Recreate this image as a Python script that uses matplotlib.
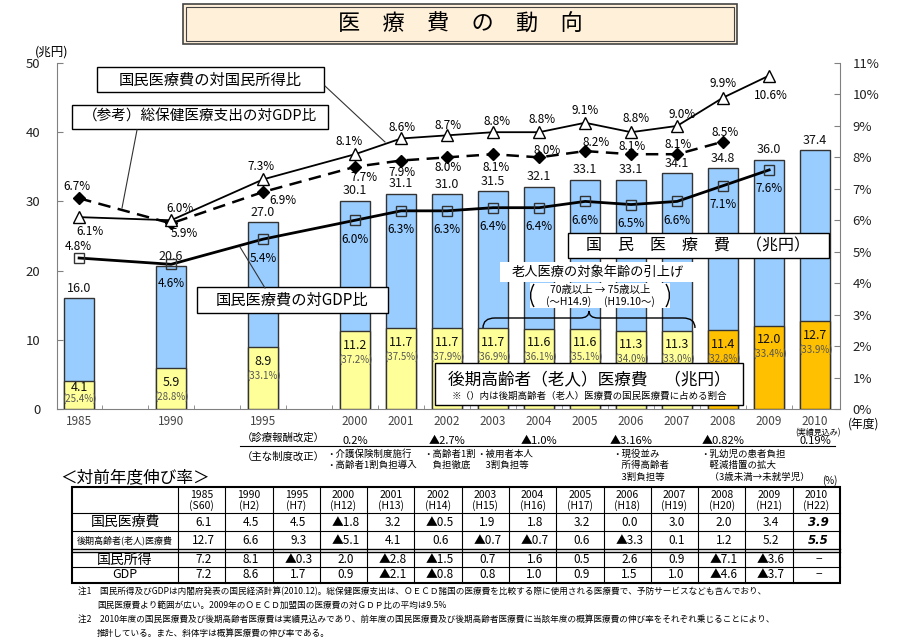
import matplotlib
matplotlib.use('Agg')
import matplotlib.pyplot as plt
import matplotlib.patches as mpatches
from matplotlib.path import Path
from matplotlib.transforms import blended_transform_factory
import numpy as np

plt.rcParams['font.family'] = ['Noto Sans CJK JP', 'DejaVu Sans']

# ---- data ----
years = ['1985', '1990', '1995', '2000', '2001', '2002', '2003', '2004',
         '2005', '2006', '2007', '2008', '2009', '2010']
xpos = np.array([0, 2, 4, 6, 7, 8, 9, 10, 11, 12, 13, 14, 15, 16])

total = [16.0, 20.6, 27.0, 30.1, 31.1, 31.0, 31.5, 32.1, 33.1, 33.1, 34.1, 34.8, 36.0, 37.4]
elderly = [4.1, 5.9, 8.9, 11.2, 11.7, 11.7, 11.7, 11.6, 11.6, 11.3, 11.3, 11.4, 12.0, 12.7]
elderly_share = [25.4, 28.8, 33.1, 37.2, 37.5, 37.9, 36.9, 36.1, 35.1, 34.0, 33.0, 32.8, 33.4, 33.9]

income_ratio = [6.1, 6.0, 7.3, 8.1, 8.6, 8.7, 8.8, 8.8, 9.1, 8.8, 9.0, 9.9, 10.6]  # 1985-2009
oecd_ratio = [6.7, 5.9, 6.9, 7.7, 7.9, 8.0, 8.1, 8.0, 8.2, 8.1, 8.1, 8.5]          # 1985-2008
gdp_ratio = [4.8, 4.6, 5.4, 6.0, 6.3, 6.3, 6.4, 6.4, 6.6, 6.5, 6.6, 7.1, 7.6]      # 1985-2009

fee_idx = [3, 5, 7, 9, 11, 13]
fee_rates = ['0.2%', '▲2.7%', '▲1.0%', '▲3.16%', '▲0.82%', '0.19%']

col_heads = [('1985', '(S60)'), ('1990', '(H2)'), ('1995', '(H7)'), ('2000', '(H12)'),
             ('2001', '(H13)'), ('2002', '(H14)'), ('2003', '(H15)'), ('2004', '(H16)'),
             ('2005', '(H17)'), ('2006', '(H18)'), ('2007', '(H19)'), ('2008', '(H20)'),
             ('2009', '(H21)'), ('2010', '(H22)')]
row_names = ['国民医療費', '後期高齢者(老人)医療費', '国民所得', 'GDP']
growth_med = ['6.1', '4.5', '4.5', '▲1.8', '3.2', '▲0.5', '1.9', '1.8', '3.2', '0.0', '3.0', '2.0', '3.4', '3.9']
growth_eld = ['12.7', '6.6', '9.3', '▲5.1', '4.1', '0.6', '▲0.7', '▲0.7', '0.6', '▲3.3', '0.1', '1.2', '5.2', '5.5']
growth_inc = ['7.2', '8.1', '▲0.3', '2.0', '▲2.8', '▲1.5', '0.7', '1.6', '0.5', '2.6', '0.9', '▲7.1', '▲3.6', '−']
growth_gdp = ['7.2', '8.6', '1.7', '0.9', '▲2.1', '▲0.8', '0.8', '1.0', '0.9', '1.5', '1.0', '▲4.6', '▲3.7', '−']
growth_rows = [growth_med, growth_eld, growth_inc, growth_gdp]

# ---- label offsets (pixels) ----
inc_off = [(11, -14), (9, 12), (-2, 13), (-6, 13), (1, 11), (1, 10), (4, 11), (3, 13),
           (0, 12), (5, 14), (5, 11), (0, 14), (2, -20)]
oecd_off = [(-2, 12), (13, -10), (20, -9), (9, -11), (1, -12), (1, -10), (3, -13),
            (8, 7), (11, 9), (1, 8), (1, 10), (2, 9)]
gdp_off = [(-1, 12)] + [(0, -19)] * 12

W, H = 908, 642
L, R, T, B = 57, 840, 63, 409

fig = plt.figure(figsize=(W / 100, H / 100), dpi=100)
ax = fig.add_axes([L / W, 1 - B / H, (R - L) / W, (B - T) / H])
ax.set_xlim(-0.48, 16.54)
ax.set_ylim(0, 50)

eld_colors = ['#FFFF99'] * 11 + ['#FFC000'] * 3
bw = 0.66
ax.bar(xpos, total, bw, color='#99CCFF', edgecolor='#333333', lw=1.0, zorder=2)
ax.bar(xpos, elderly, bw, color=eld_colors, edgecolor='#333333', lw=1.0, zorder=3)

for x, v in zip(xpos, total):
    ax.annotate(f'{v:.1f}', (x, v), xytext=(0, 10), textcoords='offset pixels',
                ha='center', va='center', fontsize=9, color='#111111', zorder=6)
for i, (x, v, s) in enumerate(zip(xpos, elderly, elderly_share)):
    d1, d2 = (-7, -18) if i == 0 else (-14, -28)
    ax.annotate(f'{v:.1f}', (x, v), xytext=(0, d1), textcoords='offset pixels',
                ha='center', va='center', fontsize=9, color='#111111', zorder=6)
    ax.annotate(f'({s:.1f}%)', (x, v), xytext=(0, d2), textcoords='offset pixels',
                ha='center', va='center', fontsize=7, color='#555555', zorder=6)

for s in ['top', 'right']:
    ax.spines[s].set_visible(False)
for s in ['left', 'bottom']:
    ax.spines[s].set_color('#808080')
ax.set_yticks(range(0, 51, 10))
ax.tick_params(axis='y', direction='in', length=4, color='#808080', labelsize=9.5,
               labelcolor='#222222', pad=12)
ax.set_xticks(xpos)
ax.set_xticklabels(years)
ax.set_xticks(np.arange(0.5, 16, 1), minor=True)
ax.tick_params(axis='x', which='major', length=0, labelsize=8.5, labelcolor='#444444', pad=4)
ax.tick_params(axis='x', which='minor', direction='in', length=3, color='#808080')

ax2 = ax.twinx()
ax2.set_ylim(0, 11)
for s in ['top', 'left', 'bottom']:
    ax2.spines[s].set_visible(False)
ax2.spines['right'].set_color('#808080')
ax2.set_yticks(range(0, 12))
ax2.set_yticklabels([f'{v}%' for v in range(0, 12)])
ax2.tick_params(axis='y', direction='in', length=4, color='#808080', labelsize=9.5,
                labelcolor='#222222', pad=9)

ax2.plot(xpos[:13], gdp_ratio, color='k', lw=2, marker='s', ms=7, mfc='none',
         mec='#333333', mew=1, zorder=4)
ax2.plot(xpos[:12], oecd_ratio, color='k', lw=1.8, ls=(0, (5, 3)), marker='D', ms=6,
         mfc='k', mec='k', zorder=5)
ax2.plot(xpos[:13], income_ratio, color='k', lw=1.3, marker='^', ms=8, mfc='white',
         mec='k', mew=1, zorder=6)

for x, v, o in zip(xpos, income_ratio, inc_off):
    ax2.annotate(f'{v:.1f}%', (x, v), xytext=o, textcoords='offset pixels',
                 ha='center', va='center', fontsize=8.5)
for x, v, o in zip(xpos, oecd_ratio, oecd_off):
    ax2.annotate(f'{v:.1f}%', (x, v), xytext=o, textcoords='offset pixels',
                 ha='center', va='center', fontsize=8.5)
for x, v, o in zip(xpos, gdp_ratio, gdp_off):
    ax2.annotate(f'{v:.1f}%', (x, v), xytext=o, textcoords='offset pixels',
                 ha='center', va='center', fontsize=8.5)

# ---- overlay in pixel coordinates ----
ov = fig.add_axes([0, 0, 1, 1], zorder=10)
ov.set_xlim(0, W)
ov.set_ylim(H, 0)
ov.axis('off')
bt = blended_transform_factory(ax.transData, ov.transData)


def box(x0, y0, x1, y1, fc='white', lw=1.0, ec='black'):
    ov.add_patch(mpatches.Rectangle((x0, y0), x1 - x0, y1 - y0, fc=fc, ec=ec, lw=lw))


# title
box(183, 4, 737, 44, fc='#FFF0D9', ec='#444444', lw=1.2)
box(186, 7, 734, 41, fc='none', ec='#444444', lw=0.8)
ov.text(460, 24, '医　療　費　の　動　向', ha='center', va='center', fontsize=16)

ov.text(52, 52, '(兆円)', ha='center', va='center', fontsize=9)
ov.text(864, 424, '(年度)', ha='center', va='center', fontsize=8.5)
ov.text(818, 432.5, '(実績見込み)', ha='center', va='center', fontsize=5.8)

# legend boxes
ov.plot([325, 385], [86, 142], color='#333333', lw=0.8)
box(97, 67, 324, 92)
ov.text(210, 80, '国民医療費の対国民所得比', ha='center', va='center', fontsize=11)

ov.plot([137, 122], [130, 208], color='#333333', lw=0.8)
box(72, 105, 328, 129)
ov.text(200, 117, '（参考）総保健医療支出の対GDP比', ha='center', va='center', fontsize=10.5)

ov.plot([265, 240], [288, 247], color='#333333', lw=0.8)
box(197, 287, 388, 313)
ov.text(292, 300, '国民医療費の対GDP比', ha='center', va='center', fontsize=11)

box(568, 233, 829, 258)
ov.text(698, 246, '国　民　医　療　費　（兆円）', ha='center', va='center', fontsize=11.5)

box(435, 363, 743, 405)
ov.text(589, 380, '後期高齢者（老人）医療費　（兆円）', ha='center', va='center', fontsize=12)
ov.text(589, 396, '※（）内は後期高齢者（老人）医療費の国民医療費に占める割合',
        ha='center', va='center', fontsize=6.8)

# age change annotation
box(500, 262, 697, 282, ec='none')
ov.text(598, 272, '老人医療の対象年齢の引上げ', ha='center', va='center', fontsize=9.5)
box(530, 283, 670, 308, ec='none')
ov.text(600, 290, '70歳以上 → 75歳以上', ha='center', va='center', fontsize=7.5)
ov.text(600, 302, '(～H14.9)　 (H19.10～)', ha='center', va='center', fontsize=7.5)
for px, cx in [(534, 527), (666, 673)]:
    p = Path([(px, 284), (cx, 295.5), (px, 307)], [Path.MOVETO, Path.CURVE3, Path.CURVE3])
    ov.add_patch(mpatches.PathPatch(p, fc='none', ec='black', lw=1.0))
verts = [(483, 328), (483, 318), (495, 318), (580, 318), (589, 318), (589, 311),
         (589, 318), (598, 318), (683, 318), (695, 318), (695, 328)]
codes = [Path.MOVETO, Path.CURVE3, Path.CURVE3, Path.LINETO, Path.CURVE3, Path.CURVE3,
         Path.CURVE3, Path.CURVE3, Path.LINETO, Path.CURVE3, Path.CURVE3]
ov.add_patch(mpatches.PathPatch(Path(verts, codes), fc='none', ec='black', lw=1.0))

# fee revisions and system changes
ov.text(242, 438, '（診療報酬改定）', ha='left', va='center', fontsize=7.5)
ov.plot([240, 835], [446, 446], color='black', lw=0.8)
for i, r in zip(fee_idx, fee_rates):
    ov.text(xpos[i], 440.5, r, transform=bt, ha='center', va='center', fontsize=8)
ov.text(242, 457, '（主な制度改正）', ha='left', va='center', fontsize=7.5)
reforms = [(326, ['・介護保険制度施行', '・高齢者1割負担導入']),
           (423, ['・高齢者1割', '　負担徹底']),
           (476, ['・被用者本人', '　3割負担等']),
           (612, ['・現役並み', '　所得高齢者', '　3割負担等']),
           (700, ['・乳幼児の患者負担', '　軽減措置の拡大', '　（3歳未満→未就学児）'])]
for x0, lines in reforms:
    for k, t in enumerate(lines):
        ov.text(x0, 454 + 11.5 * k, t, ha='left', va='center', fontsize=6.8)

ov.text(60, 478, '＜対前年度伸び率＞', ha='left', va='center', fontsize=12)
ov.text(830, 481, '(%)', ha='center', va='center', fontsize=7)

# table
tl, tr, c0 = 72, 840, 178
cw = (tr - c0) / 14
ys = [487, 513, 531, 549, 552, 567, 583]
ov.add_patch(mpatches.Rectangle((tl, ys[0]), tr - tl, ys[-1] - ys[0], fc='none', ec='black', lw=1.5))
for y in [513, 531, 567]:
    ov.plot([tl, tr], [y, y], color='black', lw=0.8)
ov.plot([tl, tr], [549, 549], color='black', lw=1.0)
ov.plot([tl, tr], [552, 552], color='black', lw=1.0)
for k in range(14):
    ov.plot([c0 + cw * k] * 2, [ys[0], ys[-1]], color='black', lw=0.8)
for k, (a, b) in enumerate(col_heads):
    cx = c0 + cw * (k + 0.5)
    ov.text(cx, 495, a, ha='center', va='center', fontsize=7.5)
    ov.text(cx, 506, b, ha='center', va='center', fontsize=7.5)
row_y = [522, 540, 559.5, 575]
row_fs = [10, 6.5, 10, 9]
for name, y, fs in zip(row_names, row_y, row_fs):
    ov.text((tl + c0) / 2, y, name, ha='center', va='center', fontsize=fs)
for r, (vals, y) in enumerate(zip(growth_rows, row_y)):
    for k, v in enumerate(vals):
        if k == 13 and r < 2:
            ov.text(c0 + cw * (k + 0.5) + 2, y, v, ha='center', va='center', fontsize=8.5,
                    family='DejaVu Sans', style='italic', weight='bold')
        else:
            ov.text(c0 + cw * (k + 0.5) + 2, y, v, ha='center', va='center', fontsize=8.5)

# notes
notes = [(78, 591, '注1　国民所得及びGDPは内閣府発表の国民経済計算(2010.12)。総保健医療支出は、ＯＥＣＤ諸国の医療費を比較する際に使用される医療費で、予防サービスなども含んでおり、'),
         (97, 605, '国民医療費より範囲が広い。2009年のＯＥＣＤ加盟国の医療費の対ＧＤＰ比の平均は9.5%'),
         (78, 619, '注2　2010年度の国民医療費及び後期高齢者医療費は実績見込みであり、前年度の国民医療費及び後期高齢者医療費に当該年度の概算医療費の伸び率をそれぞれ乗じることにより、'),
         (97, 633, '推計している。また、斜体字は概算医療費の伸び率である。')]
for x0, y0, t in notes:
    ov.text(x0, y0, t, ha='left', va='center', fontsize=6.2)

fig.savefig('out.png', dpi=100)
